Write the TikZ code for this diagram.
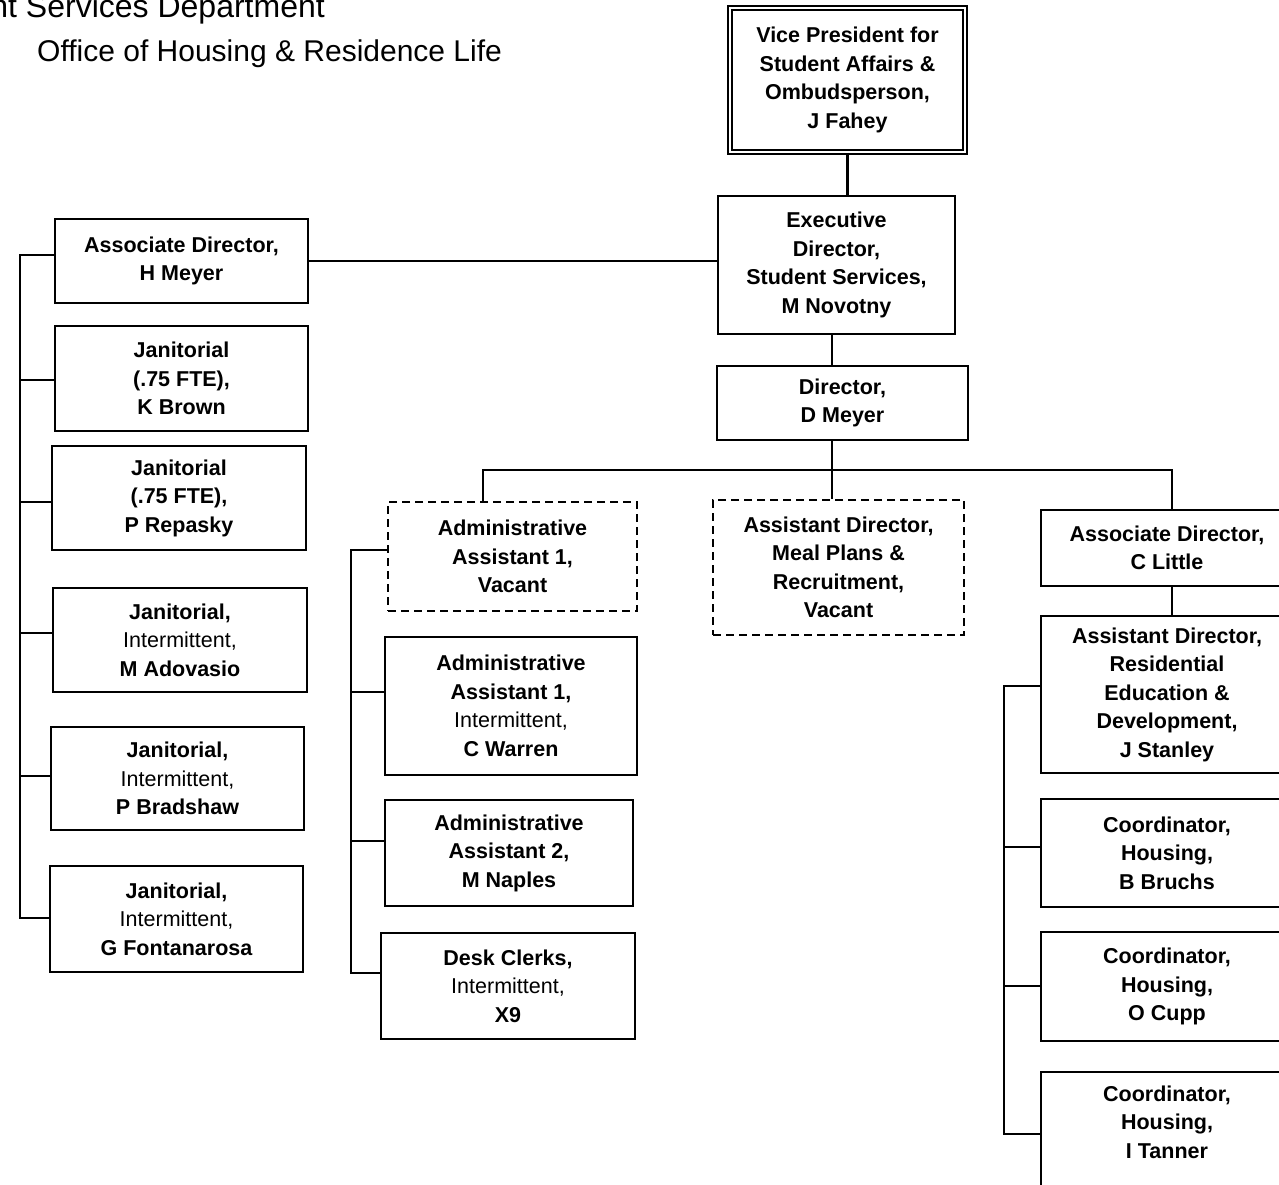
\documentclass[tikz,border=0pt]{standalone}
\usepackage{fontspec}
\setmainfont{Liberation Sans}
\begin{document}
\begin{tikzpicture}[x=1pt,y=-1pt,
  box/.style={draw, line width=2.7pt, align=center, inner sep=0pt,
    font=\fontsize{21.5}{28.5}\selectfont\bfseries},
  vac/.style={box, line width=2.5pt, dash pattern=on 8pt off 5pt},
  conn/.style={line width=2.7pt},
  ttl/.style={inner sep=0pt}
]
\useasboundingbox (0,0) rectangle (1279,1185);
\clip (0,0) rectangle (1279,1185);
\fill[white] (0,0) rectangle (1279,1185);

% titles
\node[ttl, anchor=base east, font=\fontsize{32}{36}\selectfont] (t1) at (325,18) {Student Services Department};
\node[ttl, anchor=base west, font=\fontsize{30}{34}\selectfont] (t2) at (37,62) {Office of Housing \& Residence Life};

% top chain
\node[box, double, line width=1.7pt, double distance=2.5pt, minimum width=235pt, minimum height=144pt] (vp) at (847.5,80)
  {Vice President for\\Student Affairs \&\\Ombudsperson,\\J Fahey};
\node[box, minimum width=237pt, minimum height=138pt] (exec) at (836.5,265)
  {Executive\\Director,\\Student Services,\\M Novotny};
\node[box, minimum width=251pt, minimum height=74pt] (dir) at (842.5,403)
  {Director,\\D Meyer};

% left column
\node[box, minimum width=253pt, minimum height=84pt] (hm) at (181.5,261)
  {Associate Director,\\H Meyer};
\node[box, minimum width=253pt, minimum height=105pt] (kb) at (181.5,378.5)
  {Janitorial\\(.75 FTE),\\K Brown};
\node[box, minimum width=254pt, minimum height=104pt] (pr) at (179,498)
  {Janitorial\\(.75 FTE),\\P Repasky};
\node[box, minimum width=254pt, minimum height=104pt] (ma) at (180,640)
  {Janitorial,\\{\mdseries Intermittent,}\\M Adovasio};
\node[box, minimum width=253pt, minimum height=103pt] (pb) at (177.5,778.5)
  {Janitorial,\\{\mdseries Intermittent,}\\P Bradshaw};
\node[box, minimum width=253pt, minimum height=106pt] (gf) at (176.5,919)
  {Janitorial,\\{\mdseries Intermittent,}\\G Fontanarosa};

% middle column
\node[vac, minimum width=249pt, minimum height=109pt] (aav) at (512.5,556.5)
  {Administrative\\Assistant 1,\\Vacant};
\node[box, minimum width=252pt, minimum height=138pt] (cw) at (511,706)
  {Administrative\\Assistant 1,\\{\mdseries Intermittent,}\\C Warren};
\node[box, minimum width=248pt, minimum height=106pt] (mn) at (509,853)
  {Administrative\\Assistant 2,\\M Naples};
\node[box, minimum width=254pt, minimum height=106pt] (dc) at (508,986)
  {Desk Clerks,\\{\mdseries Intermittent,}\\X9};

% meal plans
\node[vac, minimum width=251pt, minimum height=135pt] (adm) at (838.5,567.5)
  {Assistant Director,\\Meal Plans \&\\Recruitment,\\Vacant};

% right column
\node[box, minimum width=252pt, minimum height=76pt] (cl) at (1167,548)
  {Associate Director,\\C Little};
\node[box, minimum width=252pt, minimum height=157pt] (js) at (1167,694.5)
  {Assistant Director,\\Residential\\Education \&\\Development,\\J Stanley};
\node[box, minimum width=252pt, minimum height=108pt] (bb) at (1167,853)
  {Coordinator,\\Housing,\\B Bruchs};
\node[box, minimum width=252pt, minimum height=109pt] (oc) at (1167,986.5)
  {Coordinator,\\Housing,\\O Cupp};
\node[box, minimum width=252pt, minimum height=128pt] (it) at (1167,1136)
  {Coordinator,\\Housing,\\I Tanner\\\mbox{}};

% connector coordinates
\coordinate (d0) at (832,0);
\coordinate (bl) at (483,470);
\coordinate (br) at (1172,470);
\coordinate (l1) at (20,255);
\coordinate (l2) at (20,380);
\coordinate (l3) at (20,502);
\coordinate (l4) at (20,633);
\coordinate (l5) at (20,776);
\coordinate (l6) at (20,918);
\coordinate (m1) at (351,550);
\coordinate (m2) at (351,692);
\coordinate (m3) at (351,841);
\coordinate (m4) at (351,973);
\coordinate (r1) at (1004,686);
\coordinate (r2) at (1004,847);
\coordinate (r3) at (1004,986);
\coordinate (r4) at (1004,1134);

% top connectors
\draw[conn] (vp.south) -- (vp.south |- exec.north);
\draw[conn] (exec.south -| d0) -- (dir.north -| d0);
\draw[conn] (dir.south -| d0) -- (adm.north -| d0);
\draw[conn] (hm.east) -- (hm.east -| exec.west);
\draw[conn] (aav.north -| bl) -- (bl) -- (br) -- (cl.north -| br);
\draw[conn] (cl.south -| br) -- (js.north -| br);

% left bus
\draw[conn] (l1 -| hm.west) -- (l1) -- (l6) -- (l6 -| gf.west);
\draw[conn] (l2) -- (l2 -| kb.west);
\draw[conn] (l3) -- (l3 -| pr.west);
\draw[conn] (l4) -- (l4 -| ma.west);
\draw[conn] (l5) -- (l5 -| pb.west);

% middle bus
\draw[conn] (m1 -| aav.west) -- (m1) -- (m4) -- (m4 -| dc.west);
\draw[conn] (m2) -- (m2 -| cw.west);
\draw[conn] (m3) -- (m3 -| mn.west);

% right bus
\draw[conn] (r1 -| js.west) -- (r1) -- (r4) -- (r4 -| it.west);
\draw[conn] (r2) -- (r2 -| bb.west);
\draw[conn] (r3) -- (r3 -| oc.west);
\end{tikzpicture}
\end{document}
